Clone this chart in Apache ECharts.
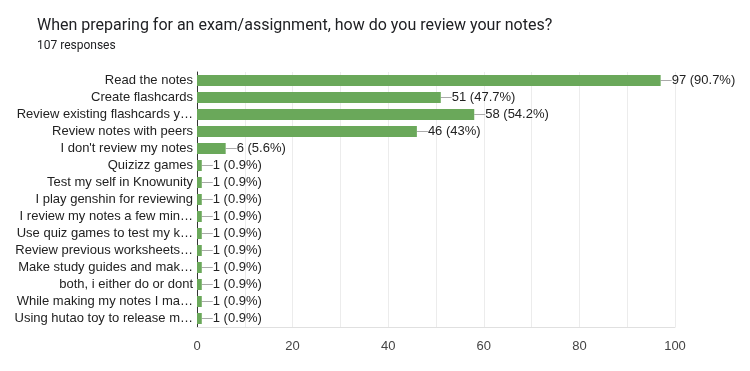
<!DOCTYPE html>
<html>
<head>
<meta charset="utf-8">
<script src="https://cdn.jsdelivr.net/npm/echarts@6/dist/echarts.min.js"></script>
<style>
  html, body { margin: 0; padding: 0; background: #fff; }
  #chart { width: 750px; height: 371px; }
</style>
</head>
<body>
<div id="chart"></div>
<script>
  // answers, top to bottom as shown
  const categories = [
    'Read the notes',
    'Create flashcards',
    'Review existing flashcards y…',
    'Review notes with peers',
    "I don't review my notes",
    'Quizizz games',
    'Test my self in Knowunity',
    'I play genshin for reviewing',
    'I review my notes a few min…',
    'Use quiz games to test my k…',
    'Review previous worksheets…',
    'Make study guides and mak…',
    'both, i either do or dont',
    'While making my notes I ma…',
    'Using hutao toy to release m…'
  ]
  const counts = [97, 51, 58, 46, 6, 1, 1, 1, 1, 1, 1, 1, 1, 1, 1]
  const percents = ['90.7%', '47.7%', '54.2%', '43%', '5.6%', '0.9%', '0.9%', '0.9%', '0.9%', '0.9%', '0.9%', '0.9%', '0.9%', '0.9%', '0.9%']
  const xTicks = [0, 20, 40, 60, 80, 100]

  const chart = echarts.init(document.getElementById('chart'))
  const option = {
    animation: false,
    title: {
      text: 'When preparing for an exam/assignment, how do you review your notes?',
      subtext: '107 responses',
      left: 32,
      top: 13,
      itemGap: 6,
      textStyle: { fontFamily: 'Roboto', fontSize: 16, fontWeight: 'normal', color: '#202124' },
      subtextStyle: { fontFamily: 'Roboto', fontSize: 12, color: '#202124' }
    },
    grid: { left: 197, right: 75, top: 72, bottom: 44, containLabel: false },
    xAxis: {
      type: 'value',
      min: 0,
      max: 100,
      interval: 10,
      axisLine: { show: true, lineStyle: { color: '#e0e0e0' } },
      axisTick: { show: false },
      axisLabel: {
        fontFamily: 'Liberation Sans', fontSize: 13, color: '#444', margin: 13,
        formatter: v => (xTicks.indexOf(v) >= 0 ? String(v) : '')
      },
      splitLine: {
        lineStyle: { color: '#ececec' }
      }
    },
    yAxis: {
      type: 'category',
      inverse: true,
      data: categories,
      axisLine: { show: true, lineStyle: { color: '#333', width: 1 } },
      axisTick: { show: false },
      axisLabel: { fontFamily: 'Liberation Sans', fontSize: 13, color: '#222', margin: 4 }
    },
    series: [{
      type: 'bar',
      data: counts,
      barWidth: 11,
      itemStyle: { color: '#6aa85a' },
      label: {
        show: true,
        position: 'right',
        distance: 0,
        fontFamily: 'Liberation Sans',
        fontSize: 13,
        color: '#222',
        formatter: p => counts[p.dataIndex] + ' (' + percents[p.dataIndex] + ')'
      },
      labelLayout: { dx: 11 },
      labelLine: { show: true, lineStyle: { color: '#aaa', width: 1 } }
    }]
  }
  chart.setOption(option)
</script>
</body>
</html>
